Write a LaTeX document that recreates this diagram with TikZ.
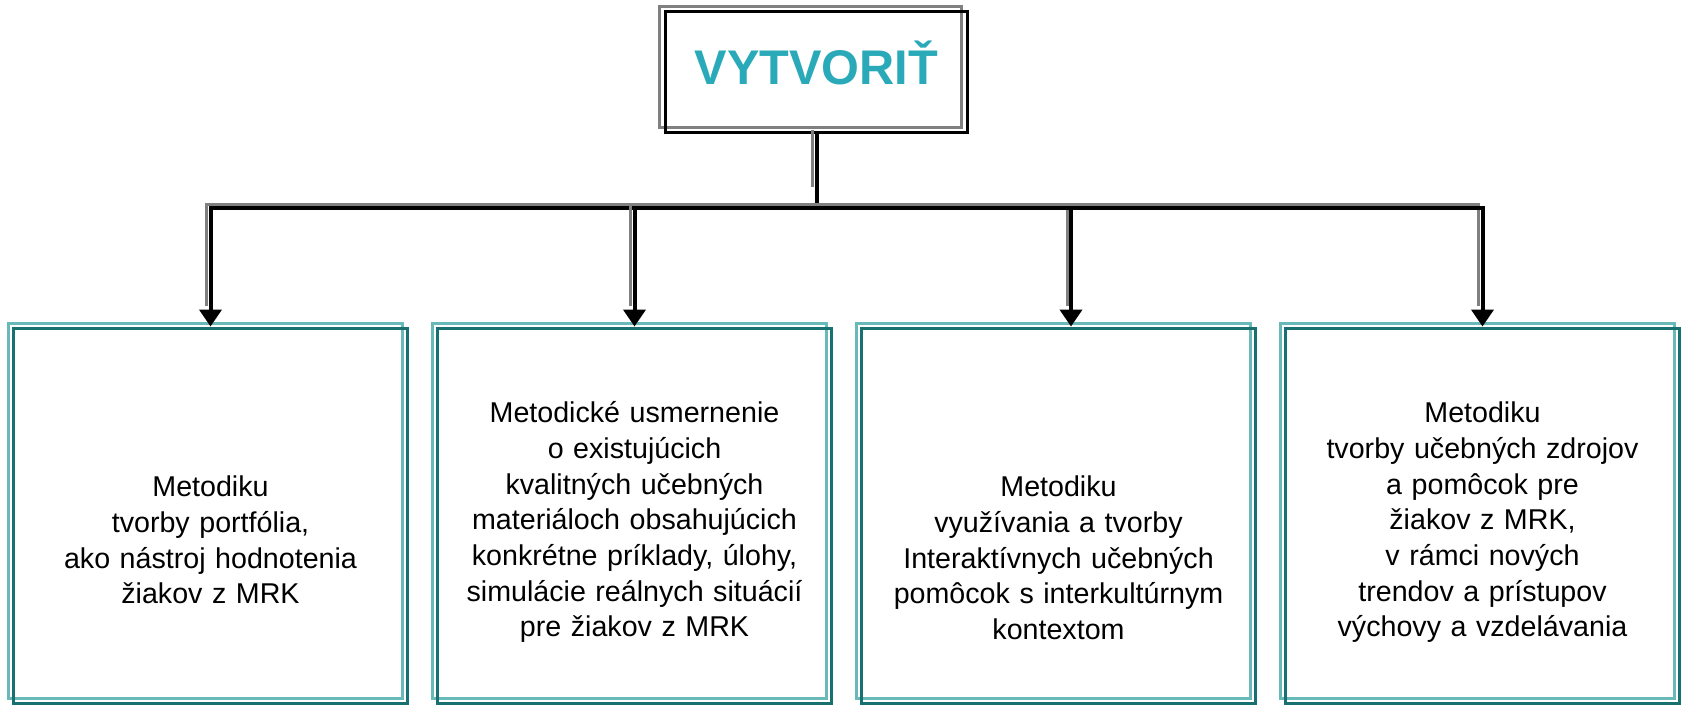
\documentclass[tikz,border=0pt]{standalone}
\usepackage{fontspec}
\setmainfont{Liberation Sans}
\usetikzlibrary{arrows.meta,shadows,positioning}
\definecolor{titleteal}{RGB}{42,170,185}
\definecolor{edgelight}{RGB}{105,185,185}
\definecolor{edgedark}{RGB}{25,112,112}

\begin{document}
\begin{tikzpicture}[x=0.02cm, y=0.02cm,
    topbox/.style={draw=black, line width=0.06cm, minimum width=6.06cm, minimum height=2.42cm, inner sep=0pt,
      copy shadow={shadow xshift=-0.12cm, shadow yshift=0.11cm, draw=gray, fill=none, line width=0.06cm}},
    panel/.style={draw=edgedark, line width=0.06cm, minimum width=7.9cm, minimum height=7.52cm, inner sep=0pt,
      copy shadow={shadow xshift=-0.1cm, shadow yshift=0.1cm, draw=edgelight, fill=none, line width=0.06cm}},
    desc/.style={font=\fontsize{16.3}{20.3}\selectfont, align=center, text width=7.6cm, inner sep=0pt, anchor=base},
    link/.style={line width=0.08cm,
      preaction={draw=gray, line width=0.06cm, -, shorten >=0.34cm, transform canvas={shift={(-0.08cm,0.08cm)}}}},
    tip/.style={-{Triangle[width=0.44cm,length=0.34cm]}}]
    \useasboundingbox (0, 0) rectangle (1681, 705);

    % top box
    \node[topbox, text=titleteal, font=\fontsize{27.7}{30}\selectfont\bfseries, text depth=0.4cm] (top) at (816.5, 632.5) {VYTVORIŤ};

    % the four boxes
    \foreach \i in {1,...,4}
      \node[panel] (b\i) at ({210.5+424*(\i-1)}, 189) {};

    \node[desc] (t1) at (210.5, 208) {Metodiku\\ tvorby portfólia,\\ ako nástroj hodnotenia\\ žiakov z MRK};
    \node[desc] (t2) at (634.5, 282) {Metodické usmernenie\\ o existujúcich\\ kvalitných učebných\\ materiáloch obsahujúcich\\ konkrétne príklady, úlohy,\\ simulácie reálnych situácií\\ pre žiakov z MRK};
    \node[desc] (t3) at (1058.5, 208) {Metodiku\\ využívania a tvorby\\ Interaktívnych učebných\\ pomôcok s interkultúrnym\\ kontextom};
    \node[desc] (t4) at (1482.5, 282) {Metodiku\\ tvorby učebných zdrojov\\ a pomôcok pre\\ žiakov z MRK,\\ v rámci nových\\ trendov a prístupov\\ výchovy a vzdelávania};

    % connectors
    \coordinate (split) at ([yshift=-1.48cm]top.south);
    \draw[link] (top.south) -- (split);
    \draw[link, tip] (split) -| (b1.north);
    \draw[link, tip] (split) -| (b2.north);
    \draw[link, tip] (split) -| ([xshift=0.25cm]b3.north);
    \draw[link, tip] (split) -| (b4.north);
\end{tikzpicture}
\end{document}
